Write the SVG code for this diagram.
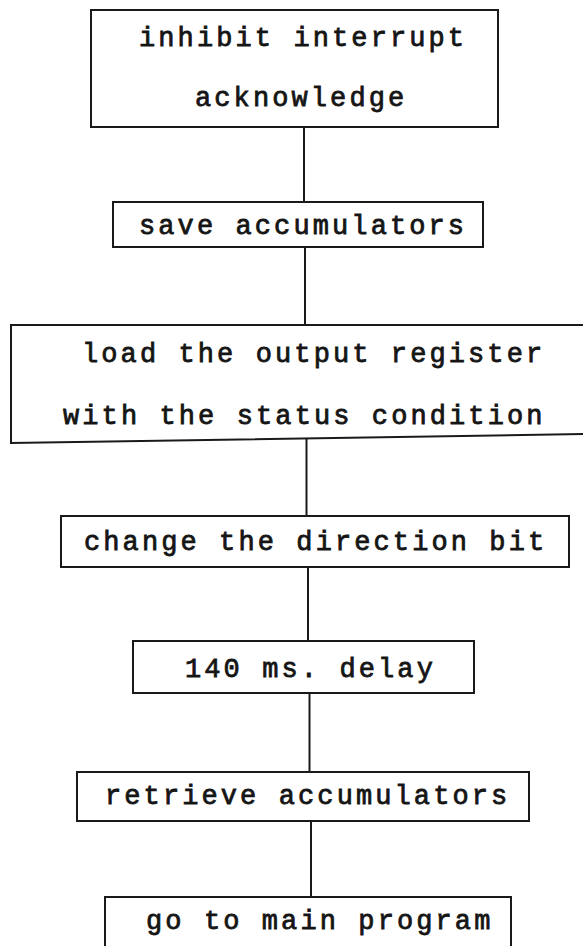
<svg xmlns="http://www.w3.org/2000/svg" width="583" height="946" viewBox="0 0 583 946">
  <style>
    .box { fill: #ffffff; stroke: #1a1a1a; stroke-width: 2; }
    .link { stroke: #1a1a1a; stroke-width: 2; fill: none; }
    .label { font-family: "Liberation Mono", "DejaVu Sans Mono", monospace; font-size: 27px; font-weight: normal; letter-spacing: 3.1px; fill: #151515; stroke: #151515; stroke-width: 0.8px; }
  </style>
  <rect width="583" height="946" fill="#ffffff"/>

  <!-- vertical connectors between the steps -->
  <g id="connectors">
    <line class="link" x1="304" y1="127" x2="304" y2="202"/>
    <line class="link" x1="305" y1="247" x2="305" y2="325"/>
    <line class="link" x1="306.5" y1="439" x2="306.5" y2="516"/>
    <line class="link" x1="308" y1="567" x2="308" y2="641"/>
    <line class="link" x1="309.5" y1="693" x2="309.5" y2="772"/>
    <line class="link" x1="311" y1="822" x2="311" y2="897"/>
  </g>

  <g id="inhibit">
    <rect class="box" x="91" y="10" width="407" height="117"/>
    <text class="label" x="139" y="46">inhibit interrupt</text>
    <text class="label" x="195" y="106">acknowledge</text>
  </g>

  <g id="save">
    <rect class="box" x="113" y="202" width="370" height="45"/>
    <text class="label" x="139" y="234">save accumulators</text>
  </g>

  <g id="load">
    <path class="box" d="M 590 325 L 11 325 L 11 443 L 590 434"/>
    <text class="label" x="82" y="362">load the output register</text>
    <text class="label" x="63" y="424">with the status condition</text>
  </g>

  <g id="direction">
    <rect class="box" x="61" y="516" width="508" height="51"/>
    <text class="label" x="84" y="550">change the direction bit</text>
  </g>

  <g id="delay">
    <rect class="box" x="133" y="641" width="341" height="52"/>
    <text class="label" x="185" y="677">140 ms. delay</text>
  </g>

  <g id="retrieve">
    <rect class="box" x="77" y="772" width="452" height="49"/>
    <text class="label" x="105" y="804">retrieve accumulators</text>
  </g>

  <g id="main">
    <path class="box" d="M 105 950 L 105 897 L 511 897 L 511 950"/>
    <text class="label" x="146" y="929">go to main program</text>
  </g>
</svg>
